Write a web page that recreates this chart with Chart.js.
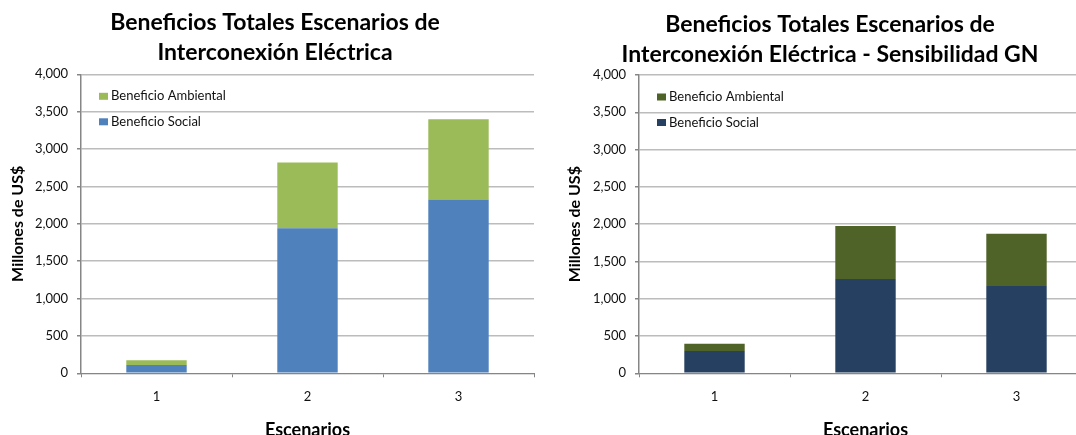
<!DOCTYPE html>
<html lang="es">
<head>
<meta charset="utf-8">
<title>Beneficios Totales Escenarios de Interconexión Eléctrica</title>
<script src="https://cdn.jsdelivr.net/npm/chart.js@4/dist/chart.umd.min.js"></script>
<style>
  html, body { margin: 0; padding: 0; background: #fff; overflow: hidden; }
  .grafico { position: absolute; top: 0; }
  #graficoBase { left: 0; }
  #graficoGN { left: 557px; }
</style>
</head>
<body>
<canvas id="graficoBase" class="grafico" width="550" height="440"></canvas>
<canvas id="graficoGN" class="grafico" width="546" height="440"></canvas>
<script>
// Escenarios de interconexión (eje X)
const escenarios = ['1', '2', '3'];

// Caso base, millones de US$
const socialBase = [110, 1940, 2325];
const ambientalBase = [65, 880, 1075];

// Sensibilidad GN, millones de US$
const socialGN = [300, 1265, 1170];
const ambientalGN = [95, 710, 700];

const fuente = 'Lato, "Open Sans", sans-serif';
const grisEje = '#868686';
const grisGrilla = '#bcbcbc';

// Leyenda dibujada dentro del área del gráfico, arriba a la izquierda,
// con el orden invertido (la serie superior primero)
const leyendaInterna = {
    id: 'leyendaInterna',
    afterDraw(chart) {
        const ctx = chart.ctx;
        const area = chart.chartArea;
        const series = chart.data.datasets.slice().reverse();
        ctx.save();
        ctx.font = '13px ' + fuente;
        ctx.textBaseline = 'middle';
        ctx.textAlign = 'left';
        series.forEach((ds, i) => {
            const y = area.top + 22 + i * 25.5;
            ctx.fillStyle = ds.backgroundColor;
            ctx.fillRect(area.left + 18, y - 3.5, 9, 7);
            ctx.fillStyle = '#111';
            ctx.fillText(ds.label, area.left + 30, y);
        });
        ctx.restore();
    }
};

function crearGrafico(id, titulo, social, ambiental, colores, margen) {
    const ctx = document.getElementById(id);
    return new Chart(ctx, {
        type: 'bar',
        data: {
            labels: escenarios,
            datasets: [
                {
                    label: 'Beneficio Social',
                    data: social,
                    backgroundColor: colores[0],
                    barPercentage: 0.4,
                    categoryPercentage: 1
                },
                {
                    label: 'Beneficio Ambiental',
                    data: ambiental,
                    backgroundColor: colores[1],
                    barPercentage: 0.4,
                    categoryPercentage: 1
                }
            ]
        },
        options: {
            responsive: false,
            animation: false,
            devicePixelRatio: 1,
            layout: { padding: { left: margen.izquierda, right: margen.derecha, top: 0, bottom: 0 } },
            plugins: {
                legend: { display: false },
                tooltip: { enabled: false },
                title: {
                    display: true,
                    text: titulo,
                    color: '#000',
                    font: { family: fuente, size: 23, weight: 'bold', lineHeight: 1.3 },
                    padding: { top: margen.tituloArriba, bottom: margen.tituloAbajo }
                }
            },
            scales: {
                x: {
                    stacked: true,
                    afterFit: (scale) => { scale.height = 66.7; },
                    grid: {
                        drawOnChartArea: false,
                        drawTicks: true,
                        tickLength: 4,
                        tickColor: grisEje,
                        color: grisEje
                    },
                    border: { color: grisEje, width: 1 },
                    ticks: {
                        color: '#111',
                        padding: 12,
                        font: { family: fuente, size: 13 }
                    },
                    title: {
                        display: true,
                        text: 'Escenarios',
                        color: '#000',
                        font: { family: fuente, size: 18, weight: 'bold', lineHeight: 1.2 },
                        padding: { top: 0, bottom: -0.5 }
                    }
                },
                y: {
                    stacked: true,
                    min: 0,
                    max: 4000,
                    afterFit: (scale) => { scale.width = margen.ejeY; },
                    grid: {
                        color: grisGrilla,
                        lineWidth: 1.5,
                        tickLength: 4,
                        tickColor: grisEje
                    },
                    border: { color: grisEje, width: 1.5 },
                    ticks: {
                        stepSize: 500,
                        color: '#111',
                        padding: 9,
                        font: { family: fuente, size: 13 }
                    },
                    title: {
                        display: true,
                        text: 'Millones de US$',
                        color: '#000',
                        font: { family: fuente, size: 16, weight: 'bold', lineHeight: 1.2 },
                        padding: { top: margen.tituloY, bottom: 0 }
                    }
                }
            }
        },
        plugins: [leyendaInterna]
    });
}

crearGrafico('graficoBase',
    ['Beneficios Totales Escenarios de', 'Interconexión Eléctrica'],
    socialBase, ambientalBase, ['#4F81BD', '#9BBB59'],
    { izquierda: 16, derecha: 16, ejeY: 65, tituloY: -7.6, tituloArriba: 8, tituloAbajo: 6.5 });

crearGrafico('graficoGN',
    ['Beneficios Totales Escenarios de', 'Interconexión Eléctrica - Sensibilidad GN'],
    socialGN, ambientalGN, ['#254061', '#4F6228'],
    { izquierda: 11, derecha: 11, ejeY: 71, tituloY: -2.6, tituloArriba: 10, tituloAbajo: 5.2 });
</script>
</body>
</html>
